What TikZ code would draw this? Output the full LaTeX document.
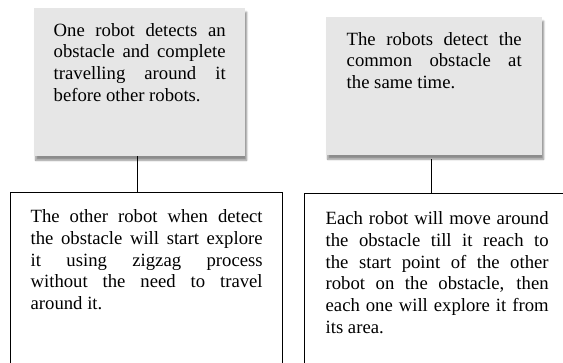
\documentclass[tikz,border=0pt]{standalone}
\usepackage{fontspec}
\setmainfont{Liberation Serif}
\usepackage{tikz}
\usetikzlibrary{shadows.blur}
\definecolor{boxgray}{RGB}{230,230,230}
\tolerance=10000
\hbadness=10000
\tikzset{
    grey-box/.style = {fill=boxgray, rectangle, anchor=north west, align=justify, font=\fontsize{18.7pt}{21.7pt}\selectfont, text height=13pt, inner ysep=15pt, blur shadow={shadow xshift=1.5pt, shadow yshift=-4pt, shadow opacity=45, shadow blur steps=6}},
    white-box/.style = {draw=black, line width=1.3pt, fill=white, rectangle, anchor=north west, align=justify, font=\fontsize{18.7pt}{21.7pt}\selectfont, text height=13pt, text depth=150pt},
    link/.style = {draw=black, line width=1.4pt},
}

\begin{document}
\begin{tikzpicture}[x=1pt, y=-1pt]
\path[use as bounding box, clip] (0,0) rectangle (563,363);
\node [grey-box, text width=172pt, inner xsep=19.5pt, text depth=105pt] (boxA) at (34,8)
    {One robot detects an\linebreak obstacle and complete\linebreak travelling around it\linebreak before other robots.};
\node [grey-box, text width=175pt, inner xsep=20.5pt, text depth=95pt] (boxB) at (326,17)
    {The robots detect the\linebreak common obstacle at\linebreak the same time.};
\node [white-box, text width=232pt, inner xsep=20pt, inner ysep=17pt] (boxC) at (10,192)
    {The other robot when detect\linebreak the obstacle will start explore\linebreak it using zigzag process\linebreak without the need to travel\linebreak around it.};
\node [white-box, text width=223pt, inner xsep=21pt, inner ysep=18pt] (boxD) at (304,193)
    {Each robot will move around\linebreak the obstacle till it reach to\linebreak the start point of the other\linebreak robot on the obstacle, then\linebreak each one will explore it from\linebreak its area.};
\draw [link] ([xshift=-2.5pt]boxA.south) -- ([xshift=-2.5pt]boxA.south |- boxC.north);
\draw [link, line width=0.9pt] ([xshift=-3pt, yshift=-4pt]boxB.south) -- ([xshift=-3pt]boxB.south |- boxD.north);
\end{tikzpicture}
\end{document}
